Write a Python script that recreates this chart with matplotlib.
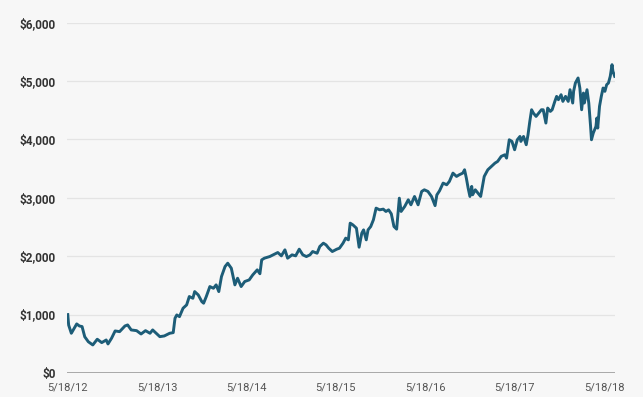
"""Growth of $1,000 line chart, 5/18/12 - 5/18/18."""

import matplotlib
matplotlib.use("Agg")
import matplotlib.pyplot as plt
import numpy as np
import pandas as pd

# years since 5/18/12 and portfolio value
years = [
    0.00, 0.01, 0.04, 0.10, 0.13, 0.16, 0.19, 0.23, 0.28, 0.33, 0.38, 0.43,
    0.45, 0.49, 0.53, 0.58, 0.64, 0.67, 0.71, 0.77, 0.82, 0.87, 0.92, 0.95,
    0.99, 1.03, 1.08, 1.14, 1.18, 1.20, 1.22, 1.25, 1.29, 1.33, 1.36, 1.40,
    1.42, 1.46, 1.50, 1.52, 1.55, 1.59, 1.63, 1.66, 1.69, 1.72, 1.76, 1.79,
    1.83, 1.87, 1.90, 1.94, 1.98, 2.03, 2.07, 2.12, 2.15, 2.17, 2.20, 2.26,
    2.32, 2.35, 2.39, 2.43, 2.46, 2.51, 2.55, 2.59, 2.63, 2.67, 2.71, 2.74,
    2.79, 2.82, 2.86, 2.89, 2.92, 2.96, 3.01, 3.04, 3.08, 3.11, 3.14, 3.16,
    3.19, 3.23, 3.26, 3.29, 3.31, 3.34, 3.36, 3.39, 3.42, 3.45, 3.49, 3.53,
    3.56, 3.59, 3.62, 3.65, 3.68, 3.71, 3.73, 3.77, 3.81, 3.84, 3.88, 3.92,
    3.96, 3.99, 4.03, 4.07, 4.11, 4.13, 4.16, 4.20, 4.24, 4.27, 4.31, 4.35,
    4.38, 4.42, 4.44, 4.46, 4.48, 4.50, 4.52, 4.53, 4.56, 4.59, 4.62, 4.64,
    4.66, 4.70, 4.74, 4.78, 4.81, 4.85, 4.89, 4.91, 4.94, 4.97, 5.00, 5.03,
    5.06, 5.07, 5.10, 5.13, 5.15, 5.17, 5.19, 5.21, 5.24, 5.27, 5.30, 5.32,
    5.35, 5.37, 5.40, 5.42, 5.45, 5.47, 5.49, 5.52, 5.54, 5.57, 5.60, 5.62,
    5.65, 5.66, 5.68, 5.71, 5.73, 5.75, 5.77, 5.78, 5.81, 5.83, 5.85, 5.86,
    5.88, 5.91, 5.92, 5.93, 5.95, 5.97, 5.99, 6.01, 6.03, 6.05, 6.07, 6.09,
    6.10, 6.12,
]
values = [
    1000, 820, 680, 840, 805, 795, 620, 535, 480, 578, 520, 565,
    497, 595, 720, 708, 805, 823, 737, 725, 668, 725, 680, 737,
    680, 622, 634, 680, 691, 938, 994, 965, 1109, 1166, 1309, 1280,
    1394, 1337, 1222, 1195, 1309, 1480, 1451, 1509, 1394, 1651, 1823, 1880,
    1794, 1509, 1623, 1480, 1566, 1594, 1680, 1766, 1700, 1937, 1966, 1994,
    2040, 2063, 2006, 2109, 1966, 2023, 2006, 2120, 2023, 1994, 2023, 2080,
    2051, 2166, 2223, 2194, 2137, 2080, 2120, 2137, 2223, 2309, 2280, 2566,
    2537, 2480, 2154, 2394, 2451, 2280, 2451, 2508, 2623, 2823, 2794, 2806,
    2766, 2794, 2726, 2508, 2463, 2994, 2766, 2851, 2966, 2880, 3023, 2880,
    3109, 3137, 3109, 3023, 2866, 3050, 3120, 3252, 3223, 3280, 3423, 3366,
    3394, 3423, 3480, 3337, 3166, 3023, 3195, 3052, 3137, 3080, 3023, 3195,
    3366, 3480, 3537, 3594, 3623, 3709, 3737, 3680, 3994, 3966, 3823, 3994,
    4051, 3966, 4051, 3909, 4080, 4308, 4508, 4451, 4394, 4451, 4508, 4508,
    4280, 4537, 4480, 4508, 4651, 4737, 4680, 4766, 4651, 4737, 4651, 4851,
    4623, 4823, 4966, 5052, 4880, 4508, 4794, 4623, 4851, 4623, 4223, 3994,
    4108, 4223, 4366, 4194, 4566, 4737, 4880, 4823, 4937, 4966, 5080, 5280,
    5166, 5080,
]

tick_years = [0, 1, 2, 3, 4, 5, 6]
tick_labels = ["5/18/12", "5/18/13", "5/18/14", "5/18/15", "5/18/16", "5/18/17", "5/18/18"]
y_ticks = [0, 1000, 2000, 3000, 4000, 5000, 6000]

BG = "#f7f7f7"
LINE = "#1d5d78"

plt.rcParams["font.family"] = ["Roboto", "DejaVu Sans"]

fig = plt.figure(figsize=(6.43, 3.97), dpi=100, facecolor=BG)
ax = fig.add_axes([0.104, 0.0605, 0.852, 0.8825], facecolor=BG)

ax.plot(np.array(years), np.array(values), color=LINE, linewidth=2.1,
        solid_joinstyle="round", zorder=3)

ax.set_xlim(-0.01, 6.12)
ax.set_ylim(0, 6000)
ax.set_xticks(tick_years)
ax.set_xticklabels(tick_labels, fontsize=8, color="#555555")
ax.set_yticks(y_ticks)
ax.set_yticklabels([f"${v:,.0f}" for v in y_ticks], fontsize=8.5,
                   fontweight="bold", color="#333333")
ax.tick_params(axis="both", length=0)
ax.tick_params(axis="x", pad=7)
ax.tick_params(axis="y", pad=8)

for v in y_ticks[1:]:
    ax.axhline(v, color="#e4e4e4", linewidth=0.9, zorder=1)
ax.axhline(0, color="#a8a8a8", linewidth=1.4, zorder=2)

for s in ax.spines.values():
    s.set_visible(False)

fig.savefig("out.png", dpi=100, facecolor=BG)
